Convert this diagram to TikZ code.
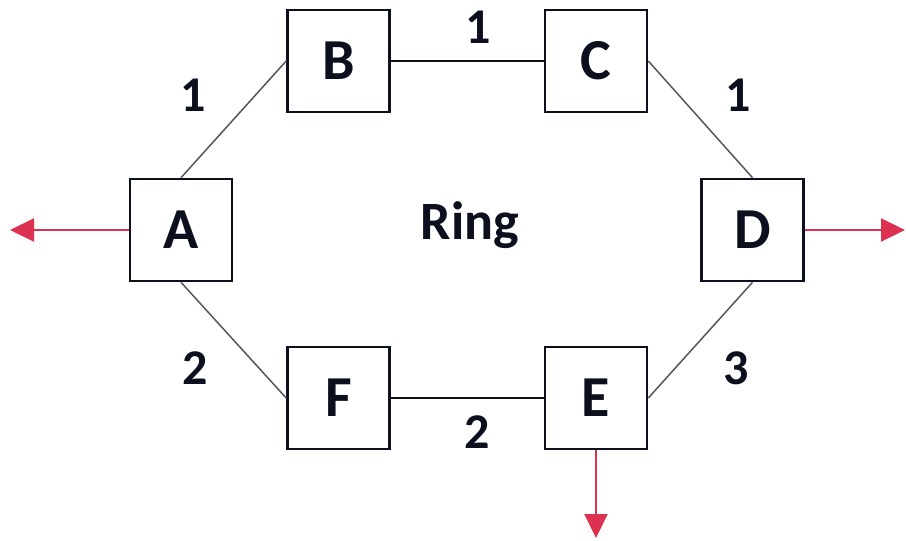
\documentclass[tikz,border=0pt]{standalone}
\usepackage{fontspec}
\setmainfont{Carlito}
\usepackage{xcolor}
\usetikzlibrary{arrows.meta,positioning}
\definecolor{ringred}{RGB}{220,50,82}
\definecolor{ringgray}{RGB}{85,85,95}
\definecolor{ringnavy}{RGB}{12,16,30}

\begin{document}
\begin{tikzpicture}[x=1pt, y=-1pt,
    router/.style={rectangle, draw=ringnavy, line width=2.6pt, minimum width=102pt, minimum height=102pt, inner sep=0pt, text=ringnavy, font=\fontsize{58}{58}\selectfont\bfseries},
    link/.style={draw=ringgray, line width=1.5pt},
    trunk/.style={draw=ringnavy, line width=2pt},
    weight/.style={text=ringnavy, font=\fontsize{50}{50}\selectfont\bfseries},
    exit/.style={draw=ringred, line width=2.2pt, -{Triangle[length=24pt, width=23pt]}}]
    \useasboundingbox (0,0) rectangle (906,541);

    % routers on the ring
    \node[router] (A) at (181,230) {A};
    \node[router] (B) at (338.5,61) {B};
    \node[router] (C) at (596,61) {C};
    \node[router] (D) at (752.5,230) {D};
    \node[router] (E) at (596,398) {E};
    \node[router] (F) at (338.5,398) {F};

    % ring links
    \draw[link] (A.north) -- (B.west);
    \draw[trunk] (B.east) -- (C.west);
    \draw[link] (C.east) -- (D.north);
    \draw[link] (D.south) -- (E.east);
    \draw[trunk] (F.east) -- (E.west);
    \draw[link] (A.south) -- (F.west);

    % link weights
    \node[weight] (wab) at (193,95) {1};
    \node[weight] (wbc) at (478,27) {1};
    \node[weight] (wcd) at (738,95) {1};
    \node[weight] (wde) at (736,368) {3};
    \node[weight] (wef) at (477,432) {2};
    \node[weight] (waf) at (195,368) {2};
    \node[text=ringnavy, font=\fontsize{54}{54}\selectfont\bfseries] (ring) at (470,225) {Ring};

    % exits
    \coordinate (aout) at (10,230);
    \coordinate (dout) at (905,230);
    \coordinate (eout) at (596,538);
    \draw[exit] (A.west) -- (aout);
    \draw[exit] (D.east) -- (dout);
    \draw[exit] (E.south) -- (eout);
\end{tikzpicture}
\end{document}
